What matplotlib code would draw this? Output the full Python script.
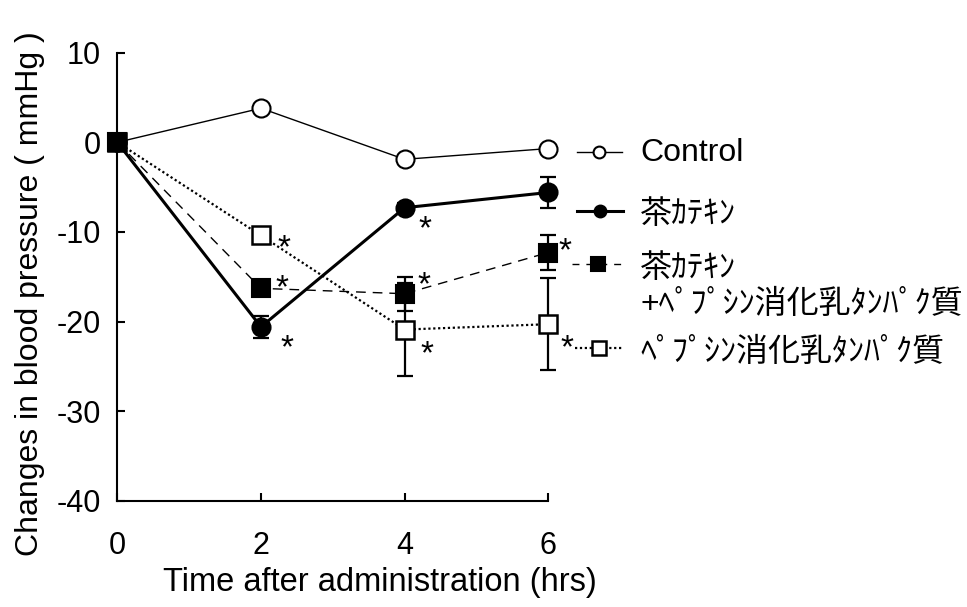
import matplotlib
matplotlib.use("Agg")
import matplotlib.pyplot as plt
from matplotlib.lines import Line2D

plt.rcParams['font.family'] = ['Liberation Sans', 'Noto Sans CJK JP']
plt.rcParams['axes.unicode_minus'] = False

# data (mmHg change vs baseline)
hours = [0, 2, 4, 6]
control = [0, 3.8, -1.9, -0.7]
catechin = [0, -20.6, -7.3, -5.6]
catechin_se = [0, 1.2, 0.5, 1.7]
combo = [0, -16.3, -16.9, -12.3]
combo_se = [0, 0.4, 1.9, 2.0]
peptide = [0, -10.4, -20.9, -20.3]
peptide_se = [0, 0.4, 5.2, 5.1]

# significance marks (index into hours)
catechin_sig = [1, 2]
combo_sig = [1, 2, 3]
peptide_sig = [1, 2, 3]

labels = ['Control', '茶ｶﾃｷﾝ', '茶ｶﾃｷﾝ\n+ﾍﾟﾌﾟｼﾝ消化乳ﾀﾝﾊﾟｸ質', 'ﾍﾟﾌﾟｼﾝ消化乳ﾀﾝﾊﾟｸ質']
yticks = [10, 0, -10, -20, -30, -40]
xticks = [0, 2, 4, 6]

W, H = 967, 607


def fx(px):
    return px / W


def fy(py):
    return 1 - py / H


fig = plt.figure(figsize=(W / 100, H / 100), dpi=100)
ax = fig.add_axes([fx(117.3), fy(500.7), fx(548.3) - fx(117.3), fy(52.7) - fy(500.7)])

styles = {
    'control': dict(color='black', lw=1.0, marker='o', mfc='white', mec='black', ms=13, mew=1.5),
    'catechin': dict(color='black', lw=2.2, marker='o', mfc='black', mec='black', ms=13, mew=1.5),
    'combo': dict(color='black', lw=1.0, ls=(0, (7, 5)), marker='s', mfc='black', mec='black', ms=13, mew=1.5),
    'peptide': dict(color='black', lw=1.6, ls=(0, (1, 1.2)), marker='s', mfc='white', mec='black', ms=13, mew=1.8),
}

eb = dict(fmt='none', ecolor='black', elinewidth=1.6, capsize=5.5, capthick=1.6, zorder=2, clip_on=False)
ax.errorbar(hours, catechin, yerr=catechin_se, **eb)
ax.errorbar(hours, combo, yerr=combo_se, **eb)
ax.errorbar(hours, peptide, yerr=peptide_se, **eb)

ax.plot(hours, control, zorder=3, clip_on=False, **styles['control'])
ax.plot(hours, peptide, zorder=4, clip_on=False, **styles['peptide'])
ax.plot(hours, catechin, zorder=5, clip_on=False, **styles['catechin'])
ax.plot(hours, combo, zorder=6, clip_on=False, **styles['combo'])

# asterisk placement (pixel offsets from the marker, down is positive)
star_offsets = {
    ('catechin', 1): (26, 13), ('catechin', 2): (20, 13),
    ('combo', 1): (21, -9), ('combo', 2): (19, -17), ('combo', 3): (17, -10),
    ('peptide', 1): (23, 4), ('peptide', 2): (22, 16), ('peptide', 3): (19, 16),
}
series = {'catechin': (catechin, catechin_sig), 'combo': (combo, combo_sig), 'peptide': (peptide, peptide_sig)}
for name, (vals, sig) in series.items():
    for i in sig:
        dx, dy = star_offsets[(name, i)]
        ax.annotate('*', xy=(hours[i], vals[i]), xytext=(dx * 0.72, -(dy + 9) * 0.72),
                    textcoords='offset points', ha='center', va='center', fontsize=24, zorder=7)

ax.set_xlim(0, 6)
ax.set_ylim(-40, 10)
ax.set_xticks(xticks)
ax.set_yticks(yticks)
ax.spines['top'].set_visible(False)
ax.spines['right'].set_visible(False)
for s in ('left', 'bottom'):
    ax.spines[s].set_linewidth(1.5)
ax.tick_params(axis='both', direction='in', length=6, width=1.5, labelsize=22)
ax.tick_params(axis='y', pad=12)
ax.tick_params(axis='x', pad=22)
ax.patch.set_visible(False)

fig.text(fx(380), fy(583), 'Time after administration (hrs)', ha='center', va='center', fontsize=23.5)
fig.text(fx(30), fy(294), 'Changes in blood pressure ( mmHg )', ha='center', va='center',
         rotation=90, fontsize=23)

# hand-placed legend
legend_rows = [
    ('control', 152, 576.7, 621.7, 8.5),
    ('catechin', 211, 576.7, 623, 8.5),
    ('combo', 264, 572, 623, 9.5),
    ('peptide', 348, 575, 623, 9.5),
]
text_y = [153, 215, 287, 353]
for (name, py, x0, x1, ms), lab, ty in zip(legend_rows, labels, text_y):
    st = dict(styles[name])
    line_st = {k: v for k, v in st.items() if k in ('color', 'lw', 'ls')}
    if name == 'combo':
        line_st['ls'] = (0, (5, 5))
    mark_st = {k: v for k, v in st.items() if k in ('marker', 'mfc', 'mec', 'mew')}
    fig.add_artist(Line2D([fx(x0), fx(x1)], [fy(py), fy(py)], transform=fig.transFigure, **line_st))
    fig.add_artist(Line2D([fx((x0 + x1) / 2)], [fy(py)], transform=fig.transFigure, ls='none',
                          ms=ms, **mark_st))
    fig.text(fx(640), fy(ty), lab, ha='left', va='center', fontsize=23, linespacing=1.25)

fig.savefig('out.png', dpi=100)
